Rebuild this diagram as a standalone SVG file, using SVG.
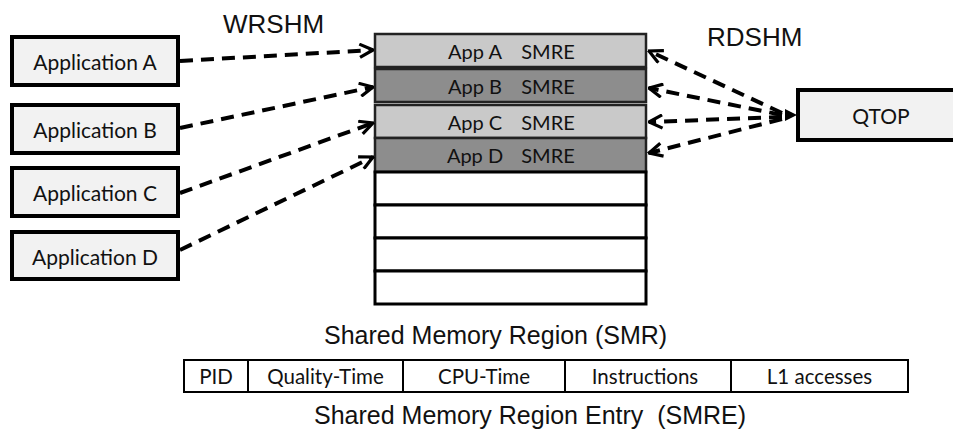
<svg xmlns="http://www.w3.org/2000/svg" width="953" height="432" viewBox="0 0 953 432">
  <style>
    .app rect { fill: #f2f2f2; stroke: #000; stroke-width: 4; }
    .app text { font-family: Lato, "Open Sans", sans-serif; font-size: 21px; fill: #111; text-anchor: middle; dominant-baseline: central; }
    .row text { font-family: Lato, "Open Sans", sans-serif; font-size: 20px; fill: #111; text-anchor: middle; dominant-baseline: central; }
    .cell text { font-family: Lato, "Open Sans", sans-serif; font-size: 20.5px; fill: #111; text-anchor: middle; dominant-baseline: central; }
    .title { font-family: "Liberation Sans", Arial, sans-serif; font-size: 26px; fill: #111; }
    .caption { font-family: "Liberation Sans", Arial, sans-serif; font-size: 25px; fill: #111; }
    .light { fill: #c9c9c9; stroke: #222; stroke-width: 2.5; }
    .dark { fill: #8d8d8d; stroke: #222; stroke-width: 2.5; }
    .empty { fill: #fff; stroke: #000; stroke-width: 3; }
    .cell rect { fill: #fff; stroke: #000; stroke-width: 2; }
    .dash { fill: none; stroke: #000; stroke-width: 4; stroke-dasharray: 13 8; }
  </style>
  <defs>
    <marker id="open" viewBox="0 0 12 12" refX="11" refY="6" markerWidth="4" markerHeight="4" orient="auto" markerUnits="strokeWidth">
      <path d="M1,1 L11,6 L1,11" fill="none" stroke="#000" stroke-width="2.4" stroke-linejoin="miter"/>
    </marker>
  </defs>

  <!-- labels -->
  <text class="title" x="223" y="33">WRSHM</text>
  <text class="title" x="707" y="46">RDSHM</text>

  <!-- writer applications -->
  <g id="appA" class="app"><rect x="12" y="37" width="166" height="48"/><text x="95" y="61">Application A</text></g>
  <g id="appB" class="app"><rect x="12" y="105" width="166" height="48"/><text x="95" y="129">Application B</text></g>
  <g id="appC" class="app"><rect x="12" y="168" width="166" height="48"/><text x="95" y="192">Application C</text></g>
  <g id="appD" class="app"><rect x="12" y="232" width="166" height="47"/><text x="95" y="256">Application D</text></g>

  <!-- reader -->
  <g id="qtop" class="app"><rect x="798" y="90" width="170" height="50"/><text x="881" y="115">QTOP</text></g>

  <!-- shared memory region -->
  <g id="smr">
    <g class="row" id="rowA"><rect class="light" x="375" y="34" width="271" height="33"/><text x="475" y="51">App A</text><text x="548" y="51">SMRE</text></g>
    <g class="row" id="rowB"><rect class="dark" x="375" y="69" width="271" height="33"/><text x="475" y="86">App B</text><text x="548" y="86">SMRE</text></g>
    <g class="row" id="rowC"><rect class="light" x="375" y="105" width="271" height="33"/><text x="475" y="122">App C</text><text x="548" y="122">SMRE</text></g>
    <g class="row" id="rowD"><rect class="dark" x="375" y="138" width="271" height="34"/><text x="475" y="155">App D</text><text x="548" y="155">SMRE</text></g>
    <rect class="empty" x="375" y="172" width="271" height="33"/>
    <rect class="empty" x="375" y="205" width="271" height="33"/>
    <rect class="empty" x="375" y="238" width="271" height="33"/>
    <rect class="empty" x="375" y="271" width="271" height="33"/>
  </g>
  <text class="caption" x="324" y="344">Shared Memory Region (SMR)</text>

  <!-- entry layout -->
  <g id="smre" class="cell">
    <rect x="184" y="360" width="64" height="32"/><text x="216" y="376">PID</text>
    <rect x="248" y="360" width="155" height="32"/><text x="325.5" y="376">Quality-Time</text>
    <rect x="403" y="360" width="162" height="32"/><text x="484" y="376">CPU-Time</text>
    <rect x="565" y="360" width="166" height="32"/><text x="645" y="376">Instructions</text>
    <rect x="731" y="360" width="177" height="32"/><text x="819.5" y="376">L1 accesses</text>
  </g>
  <text class="caption" x="314" y="424" xml:space="preserve">Shared Memory Region Entry  (SMRE)</text>

  <!-- connectors -->
  <g id="connectors" class="dash">
    <path d="M180,61 L373,50" marker-end="url(#open)"/>
    <path d="M180,128 L373,87" marker-end="url(#open)"/>
    <path d="M180,193 L373,123" marker-end="url(#open)"/>
    <path d="M180,250 L373,157" marker-end="url(#open)"/>
    <path d="M782,113 L649,51" marker-end="url(#open)"/>
    <path d="M782,115 L649,88" marker-end="url(#open)"/>
    <path d="M782,117 L649,122" marker-end="url(#open)"/>
    <path d="M782,119 L649,153" marker-end="url(#open)"/>
    <path d="M785,109 L797,115 L785,121 Z" fill="#000" stroke="none"/>
  </g>
</svg>
